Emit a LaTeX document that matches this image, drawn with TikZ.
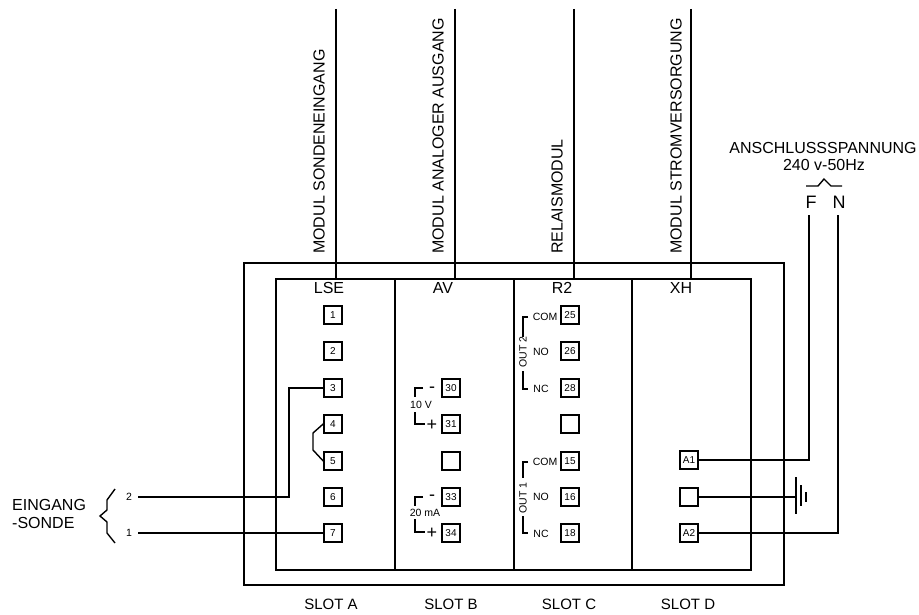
\documentclass[tikz,border=0pt]{standalone}
\usepackage{fontspec}
\setmainfont{Liberation Sans}
\usetikzlibrary{calc}

\tikzset{
	terminal/.style = {draw, rectangle, line width=1.6pt, minimum size=18pt, inner sep=0pt, font=\fontsize{10}{10}\selectfont},
	wire/.style = {line width=1.4pt},
	frame/.style = {line width=1.4pt},
	label/.style = {font=\fontsize{16}{16}\selectfont, inner sep=0pt},
	slotname/.style = {font=\fontsize{15}{15}\selectfont, inner sep=0pt},
	small/.style = {font=\fontsize{10.5}{10.5}\selectfont, inner sep=0pt},
	sign/.style = {font=\fontsize{18}{18}\selectfont, inner sep=0pt},
	sidetext/.style = {font=\fontsize{16}{16}\selectfont, inner sep=0pt, rotate=90, anchor=west},
	mains/.style = {font=\fontsize{18}{18}\selectfont, inner sep=0pt}
}

\begin{document}
\begin{tikzpicture}[x=1pt, y=-1pt]
	\useasboundingbox (0,0) rectangle (919,615);

	\def \rowa {315}
	\def \rowb {351}
	\def \rowc {388}
	\def \rowd {424}
	\def \rowe {461}
	\def \rowf {497}
	\def \rowg {533}

	% housing and slots
	\draw[frame] (244,263) rectangle (784,585);
	\draw[frame] (276,279) rectangle (751,570);
	\draw[frame] (395,279) -- (395,570);
	\draw[frame] (514,279) -- (514,570);
	\draw[frame] (632,279) -- (632,570);

	\node[label] (lse) at (329,288) {LSE};
	\node[label] (av)  at (443,288) {AV};
	\node[label] (rtwo) at (562,288) {R2};
	\node[label] (xh)  at (681,288) {XH};

	\node[slotname] (slota) at (331,604) {SLOT A};
	\node[slotname] (slotb) at (451,604) {SLOT B};
	\node[slotname] (slotc) at (569,604) {SLOT C};
	\node[slotname] (slotd) at (688,604) {SLOT D};

	% module lines
	\coordinate (lsetop)  at (336,9);
	\coordinate (lseend)  at (336,279);
	\coordinate (avtop)   at (455,9);
	\coordinate (avend)   at (455,279);
	\coordinate (rtwotop) at (574,9);
	\coordinate (rtwoend) at (574,279);
	\coordinate (xhtop)   at (691,9);
	\coordinate (xhend)   at (691,279);
	\draw[wire] (lsetop) -- (lseend);
	\draw[wire] (avtop) -- (avend);
	\draw[wire] (rtwotop) -- (rtwoend);
	\draw[wire] (xhtop) -- (xhend);

	\node[sidetext] (lsetext)  at (319,254) {MODUL SONDENEINGANG};
	\node[sidetext] (avtext)   at (438,254) {MODUL ANALOGER AUSGANG};
	\node[sidetext] (rtwotext) at (557,254) {RELAISMODUL};
	\node[sidetext] (xhtext)   at (676,254) {MODUL STROMVERSORGUNG};

	% slot A
	\node[terminal] (one)   at (333,\rowa) {1};
	\node[terminal] (two)   at (333,\rowb) {2};
	\node[terminal] (three) at (333,\rowc) {3};
	\node[terminal] (four)  at (333,\rowd) {4};
	\node[terminal] (five)  at (333,\rowe) {5};
	\node[terminal] (six)   at (333,\rowf) {6};
	\node[terminal] (seven) at (333,\rowg) {7};

	\draw[wire] (four.west) -- (313,433) -- (313,450) -- (five.west);

	\node[small] (inb) at (129,497) {2};
	\node[small] (ina) at (129,533) {1};
	\coordinate (inbend) at (138,497);
	\coordinate (inaend) at (138,533);
	\draw[wire] (inbend) -- (289,497) -- (289,\rowc) -- (three.west);
	\draw[wire] (inaend) -- (seven.west);
	\draw[wire] (115,489) -- (107,500) -- (107,510) -- (100,516) -- (107,522) -- (107,533) -- (115,543);
	\node[label, anchor=west] (eingang) at (12,505) {EINGANG};
	\node[label, anchor=west] (sonde)   at (12,523) {-SONDE};

	% slot B
	\node[terminal] (thirty)    at (451,\rowc) {30};
	\node[terminal] (thirtyone) at (451,\rowd) {31};
	\node[terminal] (emptyb)    at (451,\rowe) {};
	\node[terminal] (thirtythree) at (451,\rowf) {33};
	\node[terminal] (thirtyfour)  at (451,\rowg) {34};

	\node[small] (volt) at (421,405) {10 V};
	\node[sign] (voltminus) at (432,390) {-};
	\node[sign] (voltplus)  at (432,425) {+};
	\draw[wire] (423,388) -- (415,388) -- (415,397);
	\draw[wire] (415,412) -- (415,424) -- (425,424);

	\node[small] (amp) at (425,513) {20 mA};
	\node[sign] (ampminus) at (432,498) {-};
	\node[sign] (ampplus)  at (432,533) {+};
	\draw[wire] (423,497) -- (415,497) -- (415,506);
	\draw[wire] (415,519) -- (415,532) -- (425,532);

	% slot C
	\node[terminal] (tfive)  at (570,\rowa) {25};
	\node[terminal] (tsix)   at (570,\rowb) {26};
	\node[terminal] (teight) at (570,\rowc) {28};
	\node[terminal] (emptyc) at (570,\rowd) {};
	\node[terminal] (ofive)  at (570,\rowe) {15};
	\node[terminal] (osix)   at (570,\rowf) {16};
	\node[terminal] (oeight) at (570,\rowg) {18};

	\node[small] (comb) at (545,317) {COM};
	\node[small] (nob)  at (541,352) {NO};
	\node[small] (ncb)  at (541,389) {NC};
	\node[small, rotate=90] (outb) at (523,352) {OUT 2};
	\draw[wire] (528,317) -- (523,317) -- (523,337);
	\draw[wire] (523,371) -- (523,389) -- (528,389);

	\node[small] (coma) at (545,462) {COM};
	\node[small] (noa)  at (541,497) {NO};
	\node[small] (nca)  at (541,534) {NC};
	\node[small, rotate=90] (outa) at (523,498) {OUT 1};
	\draw[wire] (528,462) -- (523,462) -- (523,478);
	\draw[wire] (523,516) -- (523,533) -- (528,533);

	% slot D
	\node[terminal] (aone)   at (689,460) {A1};
	\node[terminal] (emptyd) at (689,\rowf) {};
	\node[terminal] (atwo)   at (689,\rowg) {A2};

	\coordinate (earth) at (796,\rowf);
	\coordinate (phase) at (809,215);
	\coordinate (neutral) at (838,215);
	\draw[wire] (aone.east) -- (aone.east -| phase) -- (phase);
	\draw[wire] (atwo.east) -- (atwo.east -| neutral) -- (neutral);
	\draw[wire] (emptyd.east) -- (earth);
	\draw[wire] (796,477) -- (796,514);
	\draw[wire] (801,485) -- (801,506);
	\draw[wire] (806,492) -- (806,502);

	% supply
	\node[label] (supply) at (823,148) {ANSCHLUSSSPANNUNG};
	\node[label] (volts)  at (824,165) {240 v-50Hz};
	\draw[wire] (806,186) -- (818,186) -- (824,179) -- (831,186) -- (842,186);
	\node[mains] (fnode) at (811,202) {F};
	\node[mains] (nnode) at (839,202) {N};
\end{tikzpicture}
\end{document}
